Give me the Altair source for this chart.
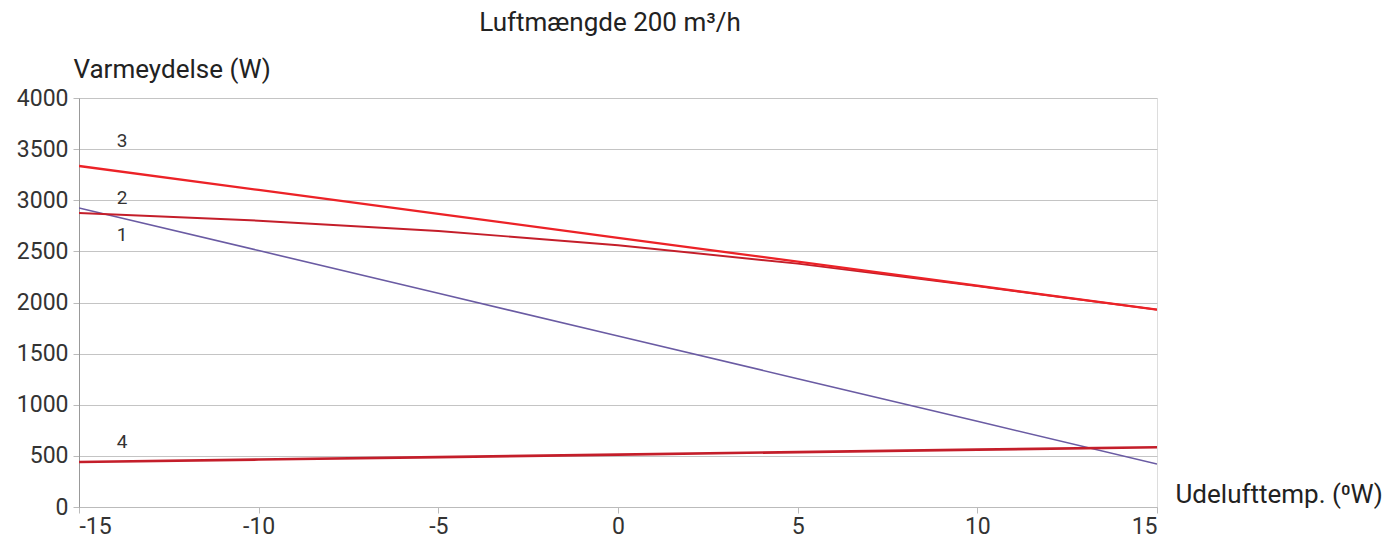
import altair as alt
import pandas as pd

# Outdoor temperature (°C) points
temps = [-15, -10, -5, 0, 5, 10, 15]
series_1 = [2925, 2508, 2090, 1672, 1255, 838, 421]      # purple
series_2 = [2875, 2800, 2700, 2560, 2380, 2160, 1930]    # dark red
series_3 = [3335, 3101, 2867, 2633, 2399, 2165, 1931]    # bright red
series_4 = [440, 464, 488, 512, 537, 561, 585]           # dark red, low

series_names = ["1", "2", "3", "4"]
series_colors = ["#6a5ba3", "#c41e2a", "#ec2227", "#c41e2a"]
series_widths = [1.6, 2.6, 2.6, 2.6]

label_text = ["3", "2", "1", "4"]
label_x = [-13.8, -13.8, -13.8, -13.8]
label_y = [3580, 3022, 2660, 636]

y_ticks = [0, 500, 1000, 1500, 2000, 2500, 3000, 3500, 4000]
x_ticks = [-15, -10, -5, 0, 5, 10, 15]

FONT = "Roboto"

rows = []
for name, vals in zip(series_names, [series_1, series_2, series_3, series_4]):
    for t, v in zip(temps, vals):
        rows.append({"temp": t, "value": v, "series": name})
df = pd.DataFrame(rows)

labels_df = pd.DataFrame({"temp": label_x, "value": label_y, "text": label_text})

x_scale = alt.Scale(domain=[-15, 15], nice=False, zero=False)
y_scale = alt.Scale(domain=[0, 4000], nice=False)

x_axis = alt.Axis(
    values=x_ticks, grid=False, title="Udelufttemp. (\u2070W)",
    labelExpr="toString(datum.value)",
    titleAngle=0, titleX=1096, titleY=-5, titleAlign="left", titleBaseline="alphabetic",
    titleFont=FONT, titleFontSize=26, titleFontWeight="normal", titleColor="#222",
    labelFont=FONT, labelFontSize=23, labelColor="#333", labelPadding=2,
    domainColor="#bbb", tickColor="#bbb", tickSize=6,
)
y_axis = alt.Axis(
    values=y_ticks, grid=True, gridColor="#c4c4c4", title="Varmeydelse (W)",
    labelExpr="toString(datum.value)",
    titleAngle=0, titleX=-6, titleY=-21, titleAlign="left", titleBaseline="alphabetic",
    titleFont=FONT, titleFontSize=26, titleFontWeight="normal", titleColor="#222",
    labelFont=FONT, labelFontSize=23, labelColor="#333", labelPadding=5,
    domainColor="#999", tickColor="#bbb", tickSize=6,
)

lines = alt.Chart(df).mark_line(clip=True).encode(
    x=alt.X("temp:Q", scale=x_scale, axis=x_axis),
    y=alt.Y("value:Q", scale=y_scale, axis=y_axis),
    color=alt.Color("series:N", scale=alt.Scale(domain=series_names, range=series_colors), legend=None),
    strokeWidth=alt.StrokeWidth("series:N", scale=alt.Scale(domain=series_names, range=series_widths), legend=None),
    order=alt.Order("temp:Q"),
)

labels = alt.Chart(labels_df).mark_text(
    font=FONT, fontSize=19, color="#333", align="center", baseline="middle"
).encode(
    x=alt.X("temp:Q", scale=x_scale),
    y=alt.Y("value:Q", scale=y_scale),
    text="text:N",
)

title = alt.Chart(pd.DataFrame({"t": ["Luftmængde 200 m\u00b3/h"]})).mark_text(
    font=FONT, fontSize=26, color="#222", align="center", baseline="middle"
).encode(
    x=alt.value(531), y=alt.value(-75), text="t:N",
)

chart = alt.layer(lines, labels, title).properties(
    width=1078, height=409,
    padding={"left": 71, "top": 90, "right": 233, "bottom": 33},
    autosize=alt.AutoSizeParams(type="none"),
).configure_view(stroke=None).configure(background="white")

chart.save("out.html", embed_options={"renderer": "svg", "actions": False})
